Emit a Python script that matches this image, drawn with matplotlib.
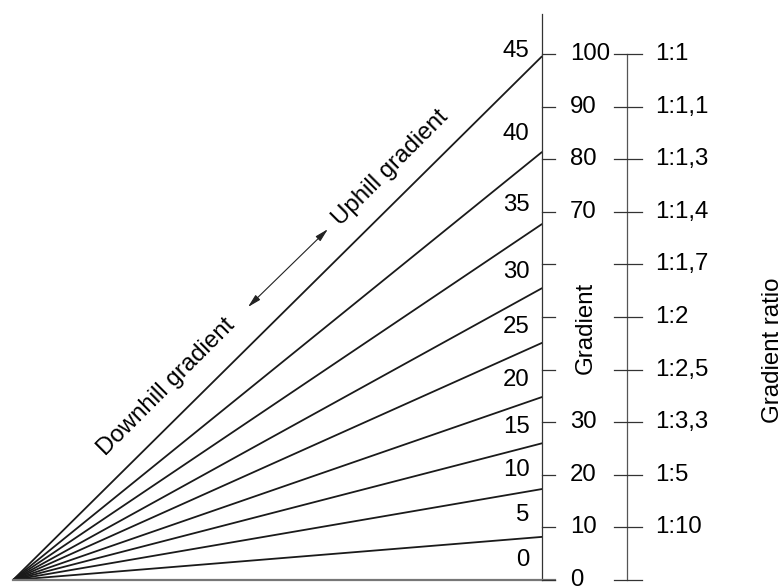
import matplotlib.pyplot as plt

plt.rcParams['font.family'] = ['Liberation Sans', 'DejaVu Sans']

# angles of the slope lines and where each one meets the gradient scale (%)
angles = [0, 5, 10, 15, 20, 25, 30, 35, 40, 45]
line_ends = [0, 8.2, 17.3, 26.0, 34.8, 45.1, 55.5, 67.7, 81.4, 99.6]
angle_label_y = [3.8, 12.4, 20.9, 29.1, 38.0, 48.1, 58.6, 71.3, 84.7, 100.5]

# gradient scale in percent
grad_ticks = [0, 10, 20, 30, 40, 50, 60, 70, 80, 90, 100]
grad_labels = [0, 10, 20, 30, 70, 80, 90, 100]

# gradient ratio scale
ratio_pos = [100, 90, 80, 70, 60, 50, 40, 30, 20, 10]
ratio_labels = ['1:1', '1:1,1', '1:1,3', '1:1,4', '1:1,7', '1:2', '1:2,5', '1:3,3', '1:5', '1:10']

FS = 17.3
AX_X = 100          # horizontal run: gradient axis sits at x = 100
RATIO_X = 116.1

fig = plt.figure(figsize=(7.84, 5.86), dpi=100)
ax = fig.add_axes([0, 0, 1, 1])
ax.set_xlim(-2.46, 145.7)
ax.set_ylim(-1.14, 110.27)
ax.axis('off')

# slope lines from the origin
for g in line_ends:
    ax.plot([0, AX_X], [0, g], color='#1a1a1a', lw=1.3, solid_capstyle='butt')

# degree labels
for a, yl in zip(angles, angle_label_y):
    ax.text(97.6, yl, str(a), ha='right', va='center', fontsize=FS)

# gradient axis
ax.plot([AX_X, AX_X], [0, 107.6], color='#333333', lw=0.9)
ax.plot([0, 102.5], [0, 0], color='#777777', lw=1.6)
for t in grad_ticks:
    ax.plot([AX_X, 102.5], [t, t], color='#333333', lw=0.9)
for t in grad_labels:
    ax.text(105.3, t, str(t), ha='left', va='center', fontsize=FS)
ax.text(108.3, 47.9, 'Gradient', rotation=90, ha='center', va='center', fontsize=FS)

# gradient ratio axis
ax.plot([RATIO_X, RATIO_X], [0, 100], color='#555555', lw=0.9)
for t in grad_ticks:
    ax.plot([113.6, 118.9], [t, t], color='#333333', lw=0.9)
for t, lab in zip(ratio_pos, ratio_labels):
    ax.text(121.4, t, lab, ha='left', va='center', fontsize=FS)
ax.text(143.6, 43.7, 'Gradient ratio', rotation=90, ha='center', va='center', fontsize=FS)

# direction labels and double arrow
ax.text(28.9, 36.6, 'Downhill gradient', rotation=45, rotation_mode='anchor',
        ha='center', va='center', fontsize=FS)
ax.text(71.3, 78.3, 'Uphill gradient', rotation=45, rotation_mode='anchor',
        ha='center', va='center', fontsize=FS)
ax.annotate('', xy=(59.5, 66.7), xytext=(44.4, 51.9),
            arrowprops=dict(arrowstyle='<|-|>,head_length=0.8,head_width=0.2',
                            color='#222222', lw=0.8, shrinkA=0, shrinkB=0))

fig.savefig('out.png', dpi=100)
